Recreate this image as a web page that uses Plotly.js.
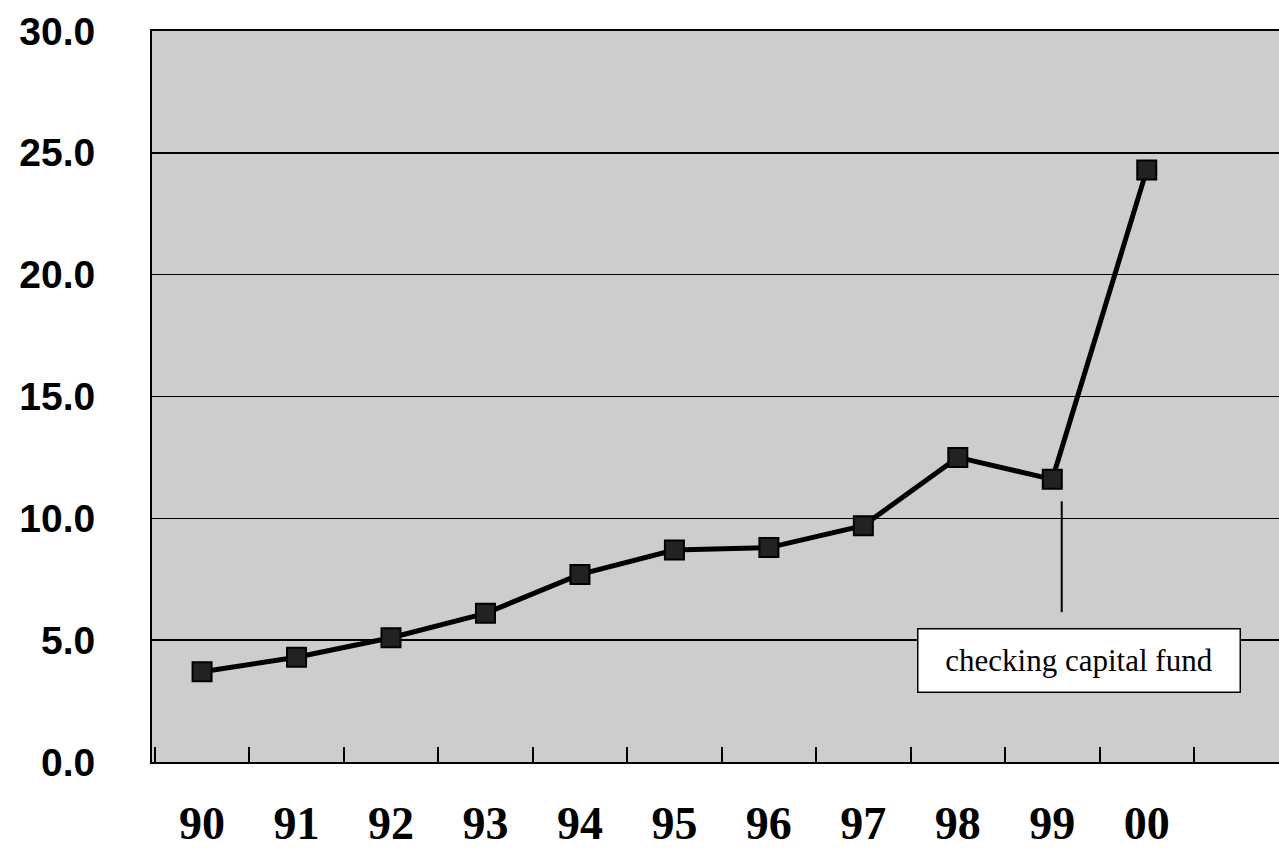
<!DOCTYPE html>
<html>
<head>
<meta charset="utf-8">
<script src="https://cdn.plot.ly/plotly-3.0.1.min.js"></script>
<style>html,body{margin:0;padding:0;background:#fff;}#chart{width:1279px;height:849px;}</style>
</head>
<body>
<div id="chart"></div>
<script>
const years = ["90","91","92","93","94","95","96","97","98","99","00"];
const values = [3.7, 4.3, 5.1, 6.1, 7.7, 8.7, 8.8, 9.7, 12.5, 11.6, 24.3];
const yTickVals = [0, 5, 10, 15, 20, 25, 30];
const yTickText = ["0.0", "5.0", "10.0", "15.0", "20.0", "25.0", "30.0"];
const noteText = "checking capital fund";

const trace = {
  type: "scatter",
  mode: "lines+markers",
  x: years,
  y: values,
  line: {color: "#000", width: 5},
  marker: {symbol: "square", size: 19, color: "#222", line: {color: "#000", width: 2}},
  hoverinfo: "skip"
};

const layout = {
  width: 1279, height: 849,
  margin: {l: 152, r: 0, t: 31, b: 87, pad: 0},
  paper_bgcolor: "#ffffff",
  plot_bgcolor: "#cdcdcd",
  showlegend: false,
  xaxis: {
    type: "category",
    range: [-0.53, 11.4],
    tickson: "boundaries",
    ticks: "inside",
    ticklen: 15,
    tickwidth: 2,
    tickcolor: "#000",
    showgrid: false,
    showline: true,
    linecolor: "#000",
    linewidth: 2,
    mirror: true,
    ticklabelstandoff: 20,
    tickfont: {family: "Liberation Serif, Times New Roman, serif", size: 46, color: "#000", weight: "bold"},
    fixedrange: true
  },
  yaxis: {
    range: [0, 30],
    tickvals: yTickVals,
    ticktext: yTickText,
    ticks: "",
    showgrid: true,
    gridcolor: "#000",
    gridwidth: 1.5,
    zeroline: false,
    showline: true,
    linecolor: "#000",
    linewidth: 2,
    ticklabelstandoff: 47,
    tickfont: {family: "Liberation Sans, Arial, sans-serif", size: 39, color: "#000", weight: "bold"},
    fixedrange: true
  },
  shapes: [
    {type: "line", xref: "x", yref: "y", x0: 9.1, x1: 9.1, y0: 10.7, y1: 6.15,
     line: {color: "#000", width: 2}}
  ],
  annotations: [
    {xref: "x", yref: "y", x: 9.28, y: 4.18, text: noteText, showarrow: false,
     font: {family: "Liberation Serif, Times New Roman, serif", size: 31, color: "#000"},
     bgcolor: "#ffffff", bordercolor: "#000", borderwidth: 1.5, borderpad: 0,
     width: 321, height: 62, align: "center", valign: "middle"}
  ]
};

Plotly.newPlot("chart", [trace], layout, {displayModeBar: false, staticPlot: true});
</script>
</body>
</html>
